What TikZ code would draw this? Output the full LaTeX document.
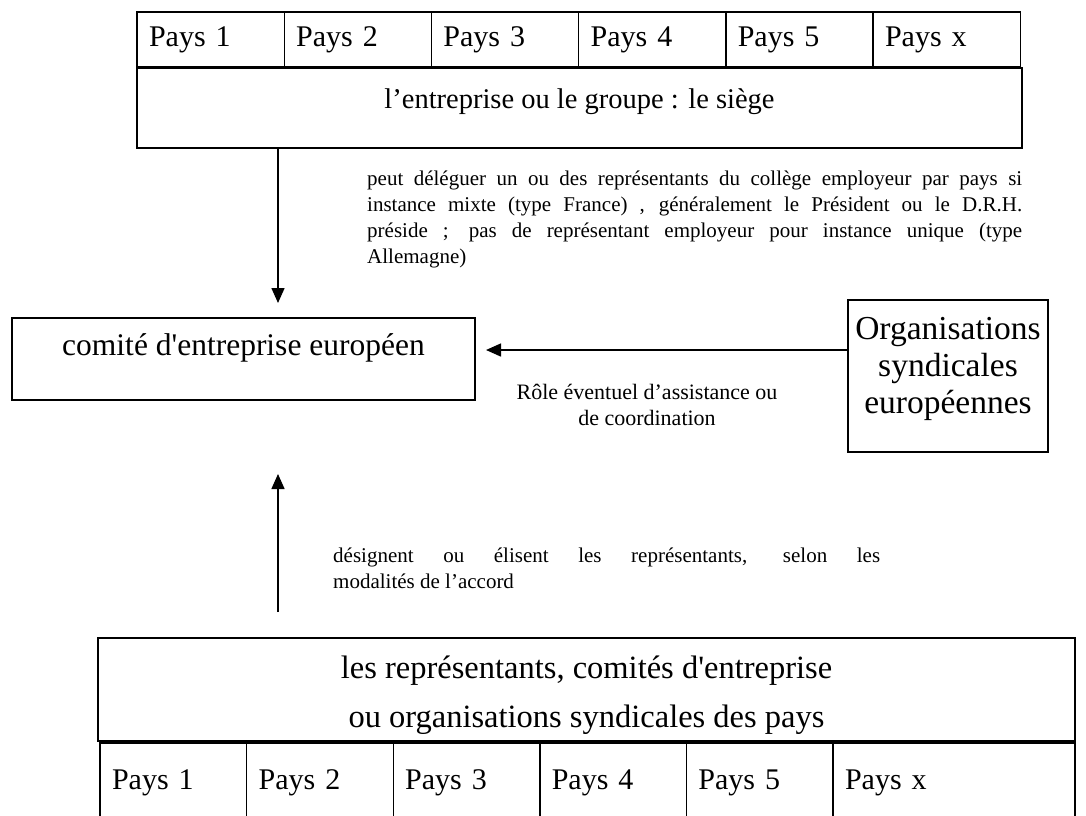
\documentclass[tikz,border=0pt]{standalone}
\usepackage{fontspec}
\setmainfont{Liberation Serif}
\usetikzlibrary{arrows.meta,positioning}

\tikzset{
  cell/.style={draw, line width=1.4pt, anchor=north west, outer sep=0pt,
    inner xsep=12pt, inner ysep=0pt, minimum height=55pt, text width=#1,
    align=left, font=\fontsize{30}{34}\selectfont},
  cell/.default=123.2pt,
  box/.style={draw, line width=1.4pt, anchor=north west, outer sep=0pt,
    inner sep=0pt, text height=22pt},
  note/.style={inner sep=0pt, anchor=north west, align=justify,
    font=\fontsize{21}{26}\selectfont},
  arr/.style={line width=1.5pt, -{Triangle[length=15pt,width=13pt]}}
}

\begin{document}
\begin{tikzpicture}[x=1pt,y=-1pt]
\useasboundingbox (0,0) rectangle (1086,815);

% top row of countries
\foreach \n [count=\i from 0] in {1,2,3,4,5,x}
  \node[cell] (top\n) at ({137+147.2*\i},12) {Pays \n};

% the headquarters
\node[box, minimum width=885pt, minimum height=80pt, text depth=22pt,
  font=\fontsize{28.5}{34}\selectfont] (siege) at (137,68)
  {l’entreprise ou le groupe : le siège};

% the european works council
\node[box, minimum width=463pt, minimum height=82pt, text depth=30pt,
  font=\fontsize{31.5}{36}\selectfont] (cee) at (12,318)
  {comité d\textquotesingle entreprise européen};

\node[box, minimum width=200pt, minimum height=152pt, text depth=96pt,
  font=\fontsize{33.5}{37}\selectfont] (org) at (848,300)
  {\begin{tabular}[t]{@{}c@{}}Organisations\\syndicales\\européennes\end{tabular}};

% national representatives
\node[box, minimum width=977pt, minimum height=103pt, text depth=45pt,
  font=\fontsize{32.5}{37}\selectfont] (rep) at (98,638)
  {\begin{tabular}[t]{@{}c@{}}les représentants, comités d\textquotesingle entreprise\\[12pt]
   ou organisations syndicales des pays\end{tabular}};

% bottom row of countries
\foreach \n [count=\i from 0] in {1,2,3,4,5}
  \node[cell=122.6pt, minimum height=80pt] (bot\n) at ({100+146.6*\i},743) {Pays \n};
\node[cell=218pt, minimum height=80pt] (botx) at (833,743) {Pays x};

% connectors
\coordinate (downtip) at (278,303);
\coordinate (lefttip) at (486,350);
\coordinate (upstart) at (278,612);
\coordinate (uptip) at (278,474);
\draw[arr] (siege.south -| downtip) -- (downtip);
\draw[arr] (org.west |- lefttip) -- (lefttip);
\draw[arr] (upstart) -- (uptip);

% labels
\node[note, text width=655pt] (delegue) at (367,170.5)
  {peut déléguer un ou des représentants du collège employeur par pays si\linebreak
   instance mixte (type France) , généralement le Président ou le D.R.H.\linebreak
   préside ; pas de représentant employeur pour instance unique (type\linebreak
   Allemagne)};
\node[align=center, font=\fontsize{22}{26}\selectfont] (role) at (647,405)
  {Rôle éventuel d’assistance ou\\de coordination};
\node[note, text width=547pt] (designe) at (333,548)
  {désignent ou élisent les représentants, selon les\linebreak
   modalités de l’accord};
\end{tikzpicture}
\end{document}
